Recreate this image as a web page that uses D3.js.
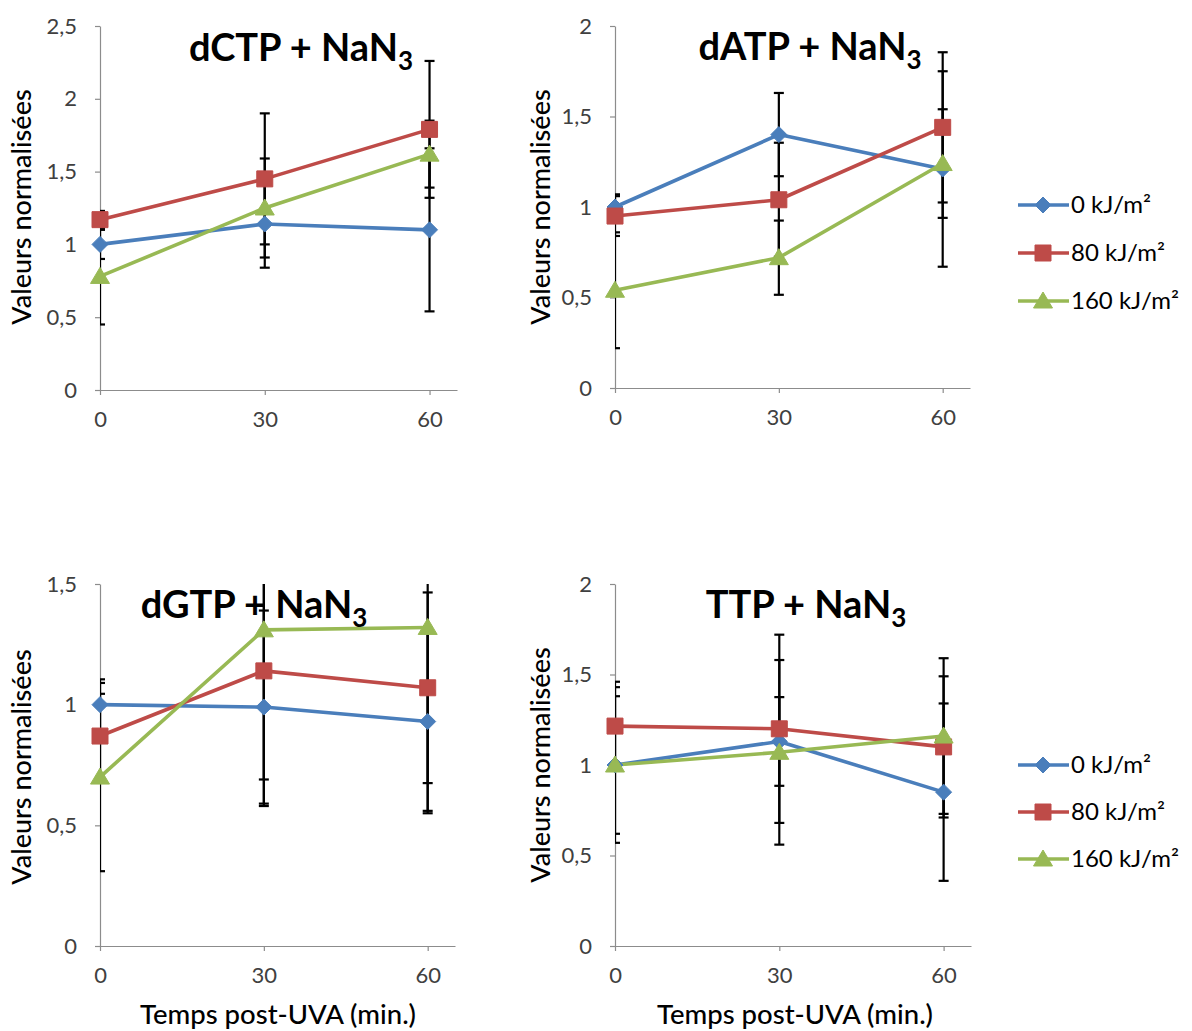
<!DOCTYPE html>
<html><head><meta charset="utf-8">
<script src="https://cdn.jsdelivr.net/npm/d3@7"></script>
<style>
body{margin:0;background:#fff}
svg{display:block}
text{font-family:Lato,"Open Sans",sans-serif}
</style>
</head><body>
<svg id="chart" width="1192" height="1031"></svg>
<script>
// ---------- data ----------
const xValues = [0, 30, 60];
const xTickLabels = ["0", "30", "60"];
const seriesNames = ["0 kJ/m²", "80 kJ/m²", "160 kJ/m²"];
const panelTitles = ["dCTP", "dATP", "dGTP", "TTP"];
const titleSuffix = " + NaN";
const titleSub = "3";
const yAxisTitle = "Valeurs normalisées";
const xAxisTitle = "Temps post-UVA (min.)";
const yMaxima = [2.5, 2, 1.5, 2];
const yTickValues = [[0, 0.5, 1, 1.5, 2, 2.5], [0, 0.5, 1, 1.5, 2], [0, 0.5, 1, 1.5], [0, 0.5, 1, 1.5, 2]];
const yTickLabels = [["0", "0,5", "1", "1,5", "2", "2,5"], ["0", "0,5", "1", "1,5", "2"], ["0", "0,5", "1", "1,5"], ["0", "0,5", "1", "1,5", "2"]];

// means: [0 kJ, 80 kJ, 160 kJ] x [0, 30, 60 min]
const dctpMeans = [[1.00, 1.14, 1.10], [1.17, 1.45, 1.79], [0.78, 1.25, 1.62]];
const dctpErrors = [[0.10, 0.30, 0.56], [0.06, 0.45, 0.47], [0.33, 0.34, 0.23]];
const datpMeans = [[1.00, 1.40, 1.21], [0.95, 1.04, 1.44], [0.54, 0.72, 1.24]];
const datpErrors = [[0.07, 0.23, 0.54], [0.11, 0.315, 0.415], [0.32, 0.205, 0.30]];
const dgtpMeans = [[1.00, 0.99, 0.93], [0.87, 1.14, 1.07], [0.70, 1.31, 1.32]];
const dgtpErrors = [[0.105, 0.40, 0.37], [0.175, 0.45, 0.395], [0.39, 0.73, 0.77]];
const ttpMeans = [[1.00, 1.13, 0.85], [1.215, 1.20, 1.10], [1.00, 1.07, 1.16]];
const ttpErrors = [[0.43, 0.245, 0.49], [0.245, 0.52, 0.39], [0.38, 0.51, 0.43]];

// ---------- layout / style ----------
const allMeans = [dctpMeans, datpMeans, dgtpMeans, ttpMeans];
const allErrors = [dctpErrors, datpErrors, dgtpErrors, ttpErrors];
const boxes = [
  {l: 100, r: 457, t: 26, b: 390, tx: 301, ty: 61, yt: [22, 207], xt: null},
  {l: 615, r: 970, t: 26, b: 388, tx: 810, ty: 60, yt: [541, 207], xt: null},
  {l: 100, r: 455, t: 584, b: 946, tx: 254, ty: 618, yt: [22, 767], xt: [278, 1024]},
  {l: 615, r: 971, t: 584, b: 946, tx: 806, ty: 618, yt: [541, 765], xt: [795, 1024]}
];
const legends = [{x: 1018, ys: [205, 253, 301]}, {x: 1018, ys: [765, 812, 859]}];
const colors = ["#4a7ebb", "#be4b48", "#98b954"];
const axisColor = "#8c8c8c";
const labelColor = "#404040";

const markerPath = [
  () => `M0,-8L8,0L0,8L-8,0Z`,
  () => `M-8,-8H8V8H-8Z`,
  () => `M0,-9L9.5,7H-9.5Z`
];

const svg = d3.select("#chart");

boxes.forEach((bx, p) => {
  const x = d3.scaleLinear().domain([0, 65]).range([bx.l, bx.r]);
  const y = d3.scaleLinear().domain([0, yMaxima[p]]).range([bx.b, bx.t]);
  const g = svg.append("g");

  // axes
  const ya = g.append("g").attr("transform", `translate(${bx.l},0)`)
    .call(d3.axisLeft(y).tickValues(yTickValues[p]).tickFormat((d, i) => yTickLabels[p][i])
      .tickSizeInner(5).tickSizeOuter(0).tickPadding(18));
  const xa = g.append("g").attr("transform", `translate(0,${bx.b})`)
    .call(d3.axisBottom(x).tickValues(xValues).tickFormat((d, i) => xTickLabels[i])
      .tickSizeInner(5).tickSizeOuter(0).tickPadding(16));
  [ya, xa].forEach(a => {
    a.attr("font-size", null).attr("font-family", null);
    a.selectAll("path.domain").attr("stroke", axisColor).attr("stroke-width", 1.2);
    a.selectAll(".tick line").attr("stroke", axisColor).attr("stroke-width", 1.2);
    a.selectAll(".tick text").attr("fill", labelColor).style("font-size", "22px");
  });

  // clip for error bars
  const cid = "clip" + p;
  svg.append("clipPath").attr("id", cid).append("rect")
    .attr("x", bx.l).attr("y", bx.t).attr("width", bx.r - bx.l + 10).attr("height", bx.b - bx.t);

  const means = allMeans[p], errs = allErrors[p];
  // error bars
  const eg = g.append("g").attr("clip-path", `url(#${cid})`);
  means.forEach((ser, s) => {
    ser.forEach((v, i) => {
      const e = errs[s][i];
      const cx = x(xValues[i]);
      eg.append("line").attr("x1", cx).attr("x2", cx).attr("y1", y(v - e)).attr("y2", y(v + e))
        .attr("stroke", "#000").attr("stroke-width", 2.2);
      [v - e, v + e].forEach(yy => {
        eg.append("line").attr("x1", cx - 5).attr("x2", cx + 5).attr("y1", y(yy)).attr("y2", y(yy))
          .attr("stroke", "#000").attr("stroke-width", 2.2);
      });
    });
  });
  // lines + markers
  means.forEach((ser, s) => {
    const line = d3.line().x((d, i) => x(xValues[i])).y(d => y(d));
    g.append("path").datum(ser).attr("d", line).attr("fill", "none")
      .attr("stroke", colors[s]).attr("stroke-width", 3.6).attr("stroke-linejoin", "round");
  });
  means.forEach((ser, s) => {
    g.selectAll(null).data(ser).enter().append("path")
      .attr("d", markerPath[s]())
      .attr("transform", (d, i) => `translate(${x(xValues[i])},${y(d)})`)
      .attr("fill", colors[s]).attr("stroke", colors[s]).attr("stroke-width", 1);
  });

  // title
  const t = g.append("text").attr("x", bx.tx).attr("y", bx.ty).attr("text-anchor", "middle")
    .style("font-weight", "bold").style("font-size", "38px").attr("fill", "#000");
  t.append("tspan").text(panelTitles[p] + titleSuffix);
  t.append("tspan").text(titleSub).attr("dy", 9).style("font-size", "26px");

  // y axis title
  g.append("text").attr("transform", `translate(${bx.yt[0]},${bx.yt[1]}) rotate(-90)`)
    .attr("text-anchor", "middle").attr("dy", "0.35em")
    .style("font-size", "27px").style("font-weight", "500").attr("fill", "#000").text(yAxisTitle);
  if (bx.xt) {
    g.append("text").attr("x", bx.xt[0]).attr("y", bx.xt[1]).attr("text-anchor", "middle")
      .style("font-size", "27.5px").style("font-weight", "500").attr("fill", "#000").text(xAxisTitle);
  }
});

// legends
legends.forEach(lg => {
  const g = svg.append("g");
  seriesNames.forEach((name, s) => {
    const yy = lg.ys[s];
    g.append("line").attr("x1", lg.x).attr("x2", lg.x + 51).attr("y1", yy).attr("y2", yy)
      .attr("stroke", colors[s]).attr("stroke-width", 3.6);
    g.append("path").attr("d", markerPath[s]()).attr("transform", `translate(${lg.x + 25},${yy})`)
      .attr("fill", colors[s]).attr("stroke", colors[s]);
    g.append("text").attr("x", lg.x + 53).attr("y", yy).attr("dy", "0.35em")
      .style("font-size", "24px").attr("fill", "#000").text(name);
  });
});
</script>
</body></html>
